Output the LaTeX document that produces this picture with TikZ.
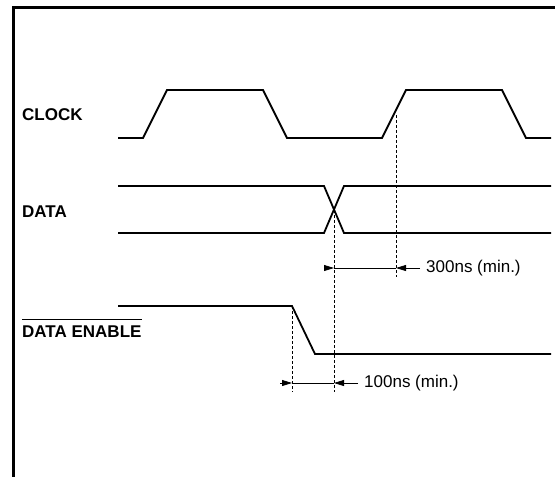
\documentclass[tikz,border=0pt]{standalone}
\usepackage{fontspec}
\setmainfont{Liberation Sans}
\usetikzlibrary{arrows.meta}

\tikzset{
  wave/.style={line width=1.8pt, line join=miter},
  guide/.style={densely dashed, line width=0.8pt},
  dim/.style={line width=0.8pt},
  dimtip/.style={dim, -{Triangle[length=10pt,width=6pt]}},
  siglabel/.style={anchor=west, inner sep=0pt, font=\fontsize{17}{20}\selectfont\bfseries},
  dimlabel/.style={anchor=west, inner sep=0pt, font=\fontsize{17}{20}\selectfont}
}

\begin{document}
\begin{tikzpicture}[x=1pt,y=-1pt]
\useasboundingbox (0,0) rectangle (555,477);

% frame
\draw[line width=3pt] (13.5,477) -- (13.5,7) -- (555,7);

% signal names
\node[siglabel] (clock) at (22,115) {CLOCK};
\node[siglabel] (data) at (22,211.5) {DATA};
\node[siglabel] (den) at (22,332) {DATA ENABLE};
\draw[line width=1pt] ([yshift=6.5pt]den.north west) -- ([yshift=6.5pt]den.north east);

% clock
\draw[wave] (118,138) -- (143,138) -- (167,90) -- (263,90) -- (287,138)
  -- (382,138) -- (406,90) -- (502,90) -- (526,138) -- (551,138);

% data
\draw[wave] (118,186) -- (324,186) -- (344,233) -- (551,233);
\draw[wave] (118,233) -- (324,233) -- (344,186) -- (551,186);

% data enable
\draw[wave] (118,306) -- (292,306) -- (315,354) -- (551,354);

% timing guides
\coordinate (clkedge) at (396,115);
\coordinate (cross) at (334,210);
\coordinate (enfall) at (292,306);
\draw[guide] (clkedge) -- (396,277);
\draw[guide] (cross) -- (334,392);
\draw[guide] (enfall) -- (292,392);

% 300ns
\coordinate (a1) at (324,268);
\coordinate (a2) at (334,268);
\coordinate (a3) at (396,268);
\coordinate (a4) at (420,268);
\draw[dimtip] (a1) -- (a2);
\draw[dim] (a2) -- (a3);
\draw[dimtip] (a4) -- (a3);
\node[dimlabel] (t300) at (426,268) {300ns (min.)};

% 100ns
\coordinate (b1) at (280,383);
\coordinate (b2) at (292,383);
\coordinate (b3) at (334,383);
\coordinate (b4) at (358,383);
\draw[dimtip] (b1) -- (b2);
\draw[dim] (b2) -- (b3);
\draw[dimtip] (b4) -- (b3);
\node[dimlabel] (t100) at (364,383) {100ns (min.)};

\end{tikzpicture}
\end{document}
